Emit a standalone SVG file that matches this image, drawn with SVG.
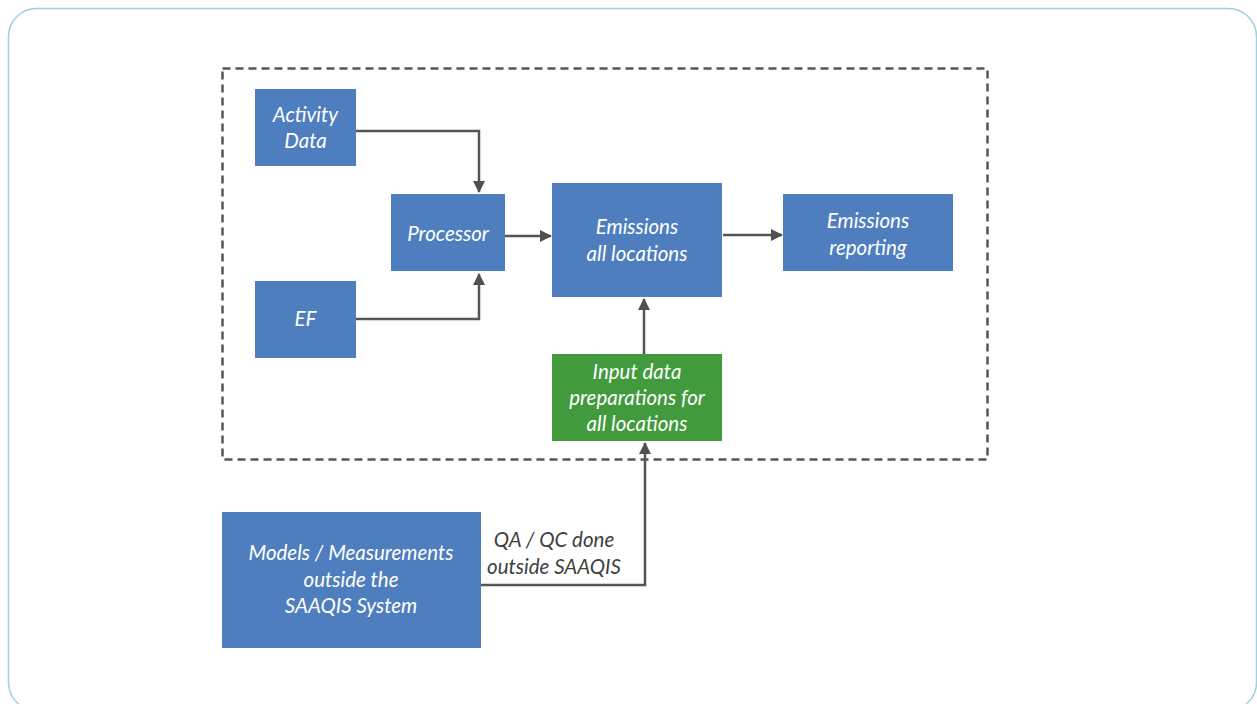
<svg xmlns="http://www.w3.org/2000/svg" width="1257" height="704" viewBox="0 0 1257 704">
<style>
.frame{fill:#fff;stroke:#9fd0dc;stroke-width:1.5}
.box{fill:#4f7ebf}
.green{fill:#419b3d}
.t{font-family:Lato,"Open Sans",sans-serif;font-style:italic;font-size:20.5px;fill:#fff;text-anchor:middle}
.lbl{font-family:Lato,"Open Sans",sans-serif;font-style:italic;font-size:20.5px;fill:#404040;text-anchor:middle}
.c{fill:none;stroke:#555;stroke-width:2.5}
.dash{fill:none;stroke:#555;stroke-width:2.5;stroke-dasharray:8 5}
</style>
<defs>
<marker id="ah" viewBox="0 0 12 12" refX="11" refY="6" markerWidth="12" markerHeight="12" markerUnits="userSpaceOnUse" orient="auto">
<path d="M0,0 L12,6 L0,12 z" fill="#505050"/>
</marker>
</defs>
<rect class="frame" x="8.5" y="8.5" width="1248" height="702" rx="28"/>
<rect class="dash" x="222.5" y="68.5" width="765" height="391"/>
<g id="connectors">
<path class="c" d="M356,131 H479 V192" marker-end="url(#ah)"/>
<path class="c" d="M356,319 H479 V274" marker-end="url(#ah)"/>
<path class="c" d="M505,236 H551" marker-end="url(#ah)"/>
<path class="c" d="M723,235 H782" marker-end="url(#ah)"/>
<path class="c" d="M644,354 V299" marker-end="url(#ah)"/>
<path class="c" d="M481,585 H645 V443" marker-end="url(#ah)"/>
<text class="lbl" x="554" y="547">QA / QC done</text>
<text class="lbl" x="554" y="574">outside SAAQIS</text>
</g>
<g id="activity">
<rect class="box" x="255" y="89" width="101" height="77"/>
<text class="t" x="305.5" y="122">Activity</text>
<text class="t" x="305.5" y="148">Data</text>
</g>
<g id="processor">
<rect class="box" x="391" y="194" width="114" height="77"/>
<text class="t" x="448" y="241">Processor</text>
</g>
<g id="ef">
<rect class="box" x="255" y="281" width="101" height="77"/>
<text class="t" x="305.5" y="326">EF</text>
</g>
<g id="emissions">
<rect class="box" x="552" y="183" width="170" height="114"/>
<text class="t" x="637" y="234">Emissions</text>
<text class="t" x="637" y="261">all locations</text>
</g>
<g id="reporting">
<rect class="box" x="783" y="194" width="170" height="77"/>
<text class="t" x="868" y="228">Emissions</text>
<text class="t" x="868" y="255">reporting</text>
</g>
<g id="input">
<rect class="green" x="552" y="354" width="170" height="87"/>
<text class="t" x="637" y="379">Input data</text>
<text class="t" x="637" y="405">preparations for</text>
<text class="t" x="637" y="431">all locations</text>
</g>
<g id="models">
<rect class="box" x="222" y="512" width="259" height="136"/>
<text class="t" x="351" y="560">Models / Measurements</text>
<text class="t" x="351" y="587">outside the</text>
<text class="t" x="351" y="613">SAAQIS System</text>
</g>
</svg>
